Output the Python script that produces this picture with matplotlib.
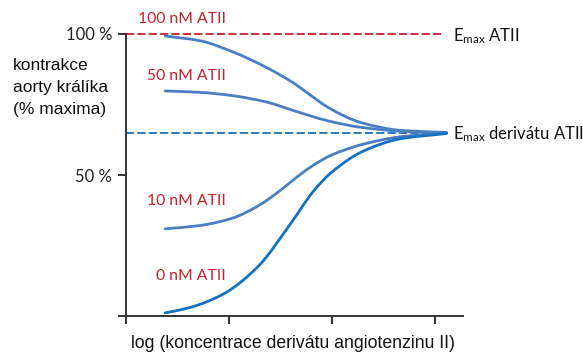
import matplotlib
matplotlib.use("Agg")
import matplotlib.pyplot as plt
from matplotlib.path import Path
from matplotlib.patches import PathPatch

plt.rcParams['mathtext.fontset'] = 'custom'
plt.rcParams['mathtext.rm'] = 'Lato'
plt.rcParams['mathtext.it'] = 'Lato'

# ---- data ----
x_100 = [0.38, 0.72, 1.04, 1.37, 1.63, 1.79, 1.96, 2.28, 2.67, 3.11]
y_100 = [99.3, 97.6, 93.6, 88.0, 82.5, 78.3, 74.0, 68.6, 65.8, 65.1]

x_50 = [0.38, 0.72, 1.04, 1.37, 1.63, 1.96, 2.28, 2.67, 3.11]
y_50 = [79.8, 79.3, 78.1, 75.8, 72.8, 69.2, 66.9, 65.5, 64.9]

x_10 = [0.38, 0.72, 1.04, 1.28, 1.50, 1.67, 1.82, 1.99, 2.31, 2.67, 3.11]
y_10 = [30.9, 32.1, 34.8, 39.0, 44.6, 49.6, 53.5, 57.0, 61.0, 63.6, 64.9]

x_0 = [0.38, 0.62, 0.94, 1.28, 1.60, 1.82, 1.99, 2.31, 2.67, 3.11]
y_0 = [1.1, 3.0, 7.7, 17.5, 32.9, 44.3, 50.8, 58.6, 62.9, 64.7]

emax_atii = 100
emax_deriv = 65
curve_labels = ["100 nM ATII", "50 nM ATII", "10 nM ATII", "0 nM ATII"]
ytick_vals = [0, 50, 100]
ytick_labels = ["", "50 %", "100 %"]
xtick_vals = [0, 1, 2, 3]

light_blue = "#4A7EC3"
dark_blue = "#1570BF"
red = "#C8202A"


def smooth_path(xs, ys):
    """Monotone (PCHIP-style) cubic through the read points, drawn as Bezier segments."""
    n = len(xs)
    h = [xs[i + 1] - xs[i] for i in range(n - 1)]
    d = [(ys[i + 1] - ys[i]) / h[i] for i in range(n - 1)]
    m = [0.0] * n
    m[0] = d[0]
    m[-1] = d[-1]
    for i in range(1, n - 1):
        if d[i - 1] * d[i] <= 0:
            m[i] = 0.0
        else:
            w1 = 2 * h[i] + h[i - 1]
            w2 = h[i] + 2 * h[i - 1]
            m[i] = (w1 + w2) / (w1 / d[i - 1] + w2 / d[i])
    verts = [(xs[0], ys[0])]
    codes = [Path.MOVETO]
    for i in range(n - 1):
        c1 = (xs[i] + h[i] / 3, ys[i] + m[i] * h[i] / 3)
        c2 = (xs[i + 1] - h[i] / 3, ys[i + 1] - m[i + 1] * h[i] / 3)
        verts += [c1, c2, (xs[i + 1], ys[i + 1])]
        codes += [Path.CURVE4] * 3
    return Path(verts, codes)


fig = plt.figure(figsize=(5.83, 3.53), dpi=100)
ax = fig.add_axes([126/583, 1-316/353, (463-126)/583, (316-34)/353])
ax.set_xlim(0, 3.27)
ax.set_ylim(0, 100)

ax.plot([0, 3.08], [emax_atii, emax_atii], color=red, lw=1.3, dashes=(4.5, 1.8), zorder=2, clip_on=False)
ax.plot([0, 3.08], [emax_deriv, emax_deriv], color=dark_blue, lw=1.3, dashes=(4.5, 1.8), zorder=2)

for xs, ys, c in [(x_100, y_100, light_blue), (x_50, y_50, light_blue),
                  (x_10, y_10, light_blue), (x_0, y_0, dark_blue)]:
    patch = PathPatch(smooth_path(xs, ys), facecolor='none', edgecolor=c, lw=2.0,
                      capstyle='round', joinstyle='round', zorder=3, clip_on=False)
    ax.add_patch(patch)

for sp in ['top', 'right']:
    ax.spines[sp].set_visible(False)
for sp in ['left', 'bottom']:
    ax.spines[sp].set_color('#333333')
    ax.spines[sp].set_linewidth(1.4)

ax.set_yticks(ytick_vals)
ax.set_yticklabels(ytick_labels, fontfamily='Lato', fontsize=12, color='#222222')
ax.set_xticks(xtick_vals)
ax.set_xticklabels([])
ax.tick_params(axis='both', direction='out', length=6, width=1.4, color='#333333', pad=4)

# curve labels (right aligned)
label_pos = [(226, 19), (226, 76), (226, 201), (226, 276)]
for txt, (px, py) in zip(curve_labels, label_pos):
    fig.text(px/583, 1-py/353, txt, ha='right', va='center', color=red,
             fontfamily='Lato', fontsize=11.3)

fig.text(453/583, 1-36/353, r"E$_{\mathregular{max}}$ ATII", ha='left', va='center',
         fontfamily='Lato', fontsize=12, color='#111111')
fig.text(453/583, 1-134/353, r"E$_{\mathregular{max}}$ derivátu ATII", ha='left', va='center',
         fontfamily='Lato', fontsize=12, color='#111111')

fig.text(13/583, 1-87.5/353, "kontrakce\naorty králíka\n(% maxima)", ha='left', va='center',
         fontfamily='Liberation Sans', fontsize=12.5, linespacing=1.55, color='#111111')
fig.text(293.5/583, 1-343/353, "log (koncentrace derivátu angiotenzinu II)", ha='center', va='center',
         fontfamily='Liberation Sans', fontsize=12.7, color='#111111')

fig.savefig("out.png", dpi=100)
